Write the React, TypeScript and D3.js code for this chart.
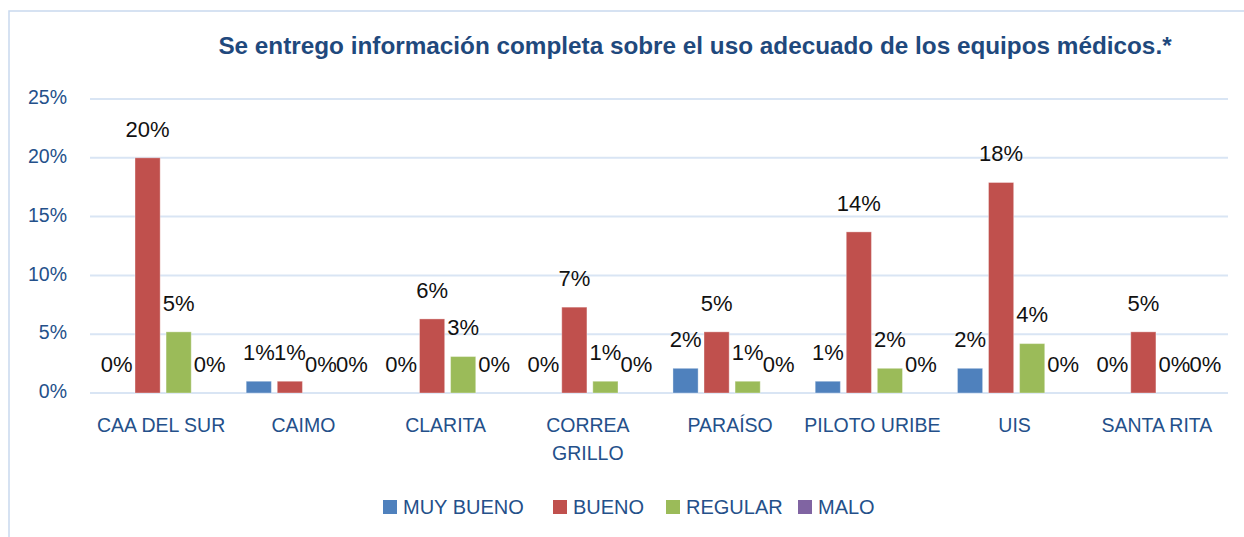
import { scaleBand, scaleLinear } from 'd3'

// data
const categories = ['CAA DEL SUR', 'CAIMO', 'CLARITA', 'CORREA GRILLO', 'PARAÍSO', 'PILOTO URIBE', 'UIS', 'SANTA RITA']
const series = ['MUY BUENO', 'BUENO', 'REGULAR', 'MALO']
const muyBueno = [0, 1.0, 0, 0, 2.1, 1.0, 2.1, 0]
const bueno = [20.0, 1.0, 6.3, 7.3, 5.2, 13.7, 17.9, 5.2]
const regular = [5.2, 0, 3.1, 1.0, 1.0, 2.1, 4.2, 0]
const malo = [0, 0, 0, 0, 0, 0, 0, 0]
const yTicks = [0, 5, 10, 15, 20, 25]
const colors = ['#4F81BD', '#C0504D', '#9BBB59', '#8064A2']
const title = 'Se entrego información completa sobre el uso adecuado de los equipos médicos.*'

const values = [muyBueno, bueno, regular, malo]

// split long category names onto two lines like excel does
const wrapLabel = (s: string) => (s === 'CORREA GRILLO' ? ['CORREA', 'GRILLO'] : [s])

export default function App() {
  const W = 1244
  const H = 537
  const plot = { left: 90, right: 1228, top: 99, bottom: 393 }
  const axisColor = '#24508A'
  const font = '"Liberation Sans", Arial, sans-serif'

  const x = scaleBand().domain(categories).range([plot.left, plot.right]).paddingInner(0).paddingOuter(0)
  const inner = scaleBand().domain(series).range([2, x.bandwidth() + 2]).paddingOuter(0.29)
  const y = scaleLinear().domain([0, 25]).range([plot.bottom, plot.top])
  const slot = inner.bandwidth()
  const barW = slot * 0.81

  const legendX = [383, 553, 666, 798]

  return (
    <svg width={W} height={H} style={{ position: 'absolute', left: 0, top: 0 }} fontFamily={font}>
      <rect x={0} y={0} width={W} height={H} fill="#fff" />
      {/* chart frame */}
      <path d={`M9,${H} V11 H${W}`} fill="none" stroke="#C9D9EE" strokeWidth={1.5} />

      <text x={695} y={54} textAnchor="middle" fontSize={24.3}
        fontWeight="bold" fill="#1F497D">{title}</text>

      {/* grid + y axis */}
      <g>
        {yTicks.map(t => (
          <g key={t}>
            <line x1={plot.left} x2={plot.right} y1={y(t)} y2={y(t)} stroke="#D9E5F4" strokeWidth={2} />
            <text x={67} y={y(t)} textAnchor="end" dominantBaseline="middle" fontSize={19.5} fill={axisColor}>{t}%</text>
          </g>
        ))}
      </g>

      {/* bars */}
      {categories.map((c, i) => (
        <g key={c} transform={`translate(${x(c)},0)`}>
          {series.map((s, j) => {
            const v = values[j][i]
            const cx = (inner(s) ?? 0) + slot / 2
            return (
              <g key={s}>
                {v > 0 && (
                  <rect x={cx - barW / 2} y={y(v)} width={barW} height={y(0) - y(v)}
                    fill={colors[j]} stroke="#fff" strokeOpacity={0.35} strokeWidth={1} />
                )}
                <text x={cx} y={y(v) - 27} textAnchor="middle" dominantBaseline="middle" fontSize={22}
                  fill="#111">{Math.round(v)}%</text>
              </g>
            )
          })}
        </g>
      ))}

      {/* category labels */}
      {categories.map(c => (
        <text key={c} x={(x(c) ?? 0) + x.bandwidth() / 2} y={432} textAnchor="middle"
          fontSize={19.5} fill={axisColor}>
          {wrapLabel(c).map((l, k) => (
            <tspan key={k} x={(x(c) ?? 0) + x.bandwidth() / 2} dy={k === 0 ? 0 : 28}>{l}</tspan>
          ))}
        </text>
      ))}

      {/* legend */}
      <g>
        {series.map((s, j) => (
          <g key={s}>
            <rect x={legendX[j]} y={500} width={14} height={14} fill={colors[j]} />
            <text x={legendX[j] + 20} y={514} fontSize={20} fill={axisColor}>{s}</text>
          </g>
        ))}
      </g>
    </svg>
  )
}
